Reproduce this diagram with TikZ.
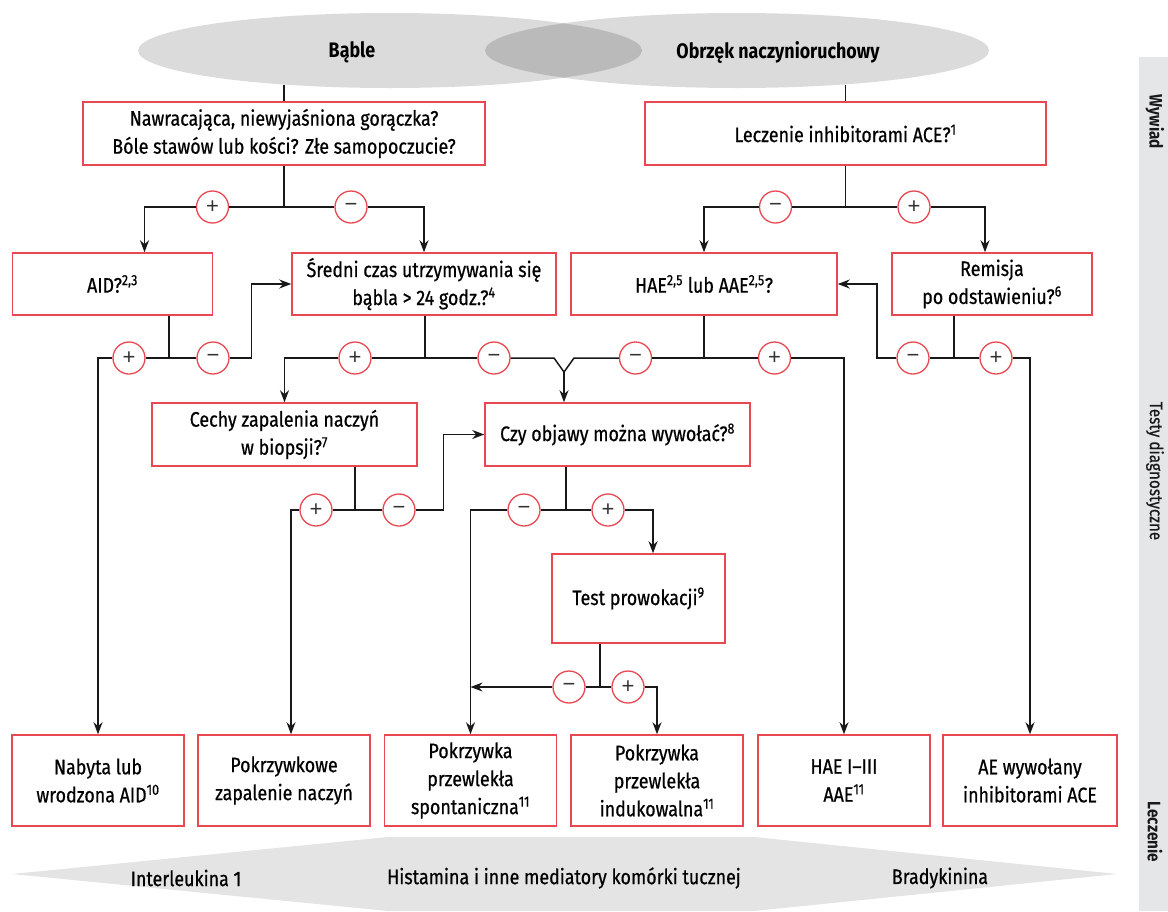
\documentclass[tikz,border=0pt]{standalone}
\usepackage{fontspec}
\setmainfont[FakeStretch=0.85, UprightFeatures={FakeBold=0.6}]{Fira Sans}
\newfontfamily\signfont{Liberation Sans}
\usetikzlibrary{arrows.meta}
\definecolor{boxred}{RGB}{233,72,82}
\definecolor{blobgray}{RGB}{219,219,219}
\definecolor{blobdark}{RGB}{186,186,186}
\definecolor{bandgray}{RGB}{228,228,228}
\definecolor{sidegray}{RGB}{229,230,232}
\tikzset{
  qbox/.style={draw=boxred, line width=1.5pt, fill=white, align=center, inner sep=2pt,
    text=black, font=\fontsize{21}{28}\selectfont},
  sign/.style={circle, draw=boxred, line width=1.3pt, fill=white, minimum size=32pt,
    inner sep=0pt, text=black!80, font=\signfont\fontsize{22}{22}\selectfont},
  conn/.style={line width=1.5pt, black!90},
  arr/.style={conn, -{Stealth[length=12pt,width=9pt]}},
  lbl/.style={text=black, font=\fontsize{21}{28}\selectfont},
  head/.style={lbl, font=\bfseries\fontsize{21}{28}\selectfont},
  side/.style={rotate=-90, text=black!90, font=\bfseries\fontsize{18}{22}\selectfont},
}
\begin{document}
\begin{tikzpicture}[x=1pt, y=-1pt]
\useasboundingbox (0,0) rectangle (1168,911);

% background shapes
\fill[blobgray] (390,50.5) ellipse [x radius=252, y radius=37.5];
\fill[blobgray] (737,50.5) ellipse [x radius=252, y radius=37.5];
\begin{scope}
  \clip (390,50.5) ellipse [x radius=252, y radius=37.5];
  \fill[blobdark] (737,50.5) ellipse [x radius=252, y radius=37.5];
\end{scope}
\fill[bandgray] (12,874) -- (388,837) -- (754,837) -- (1117,874) -- (754,911) -- (388,911) -- cycle;
\fill[sidegray] (1139,57) rectangle (1168,911);

\node[head] (bable) at (352,52) {Bąble};
\node[head] (obrzek) at (778,52) {Obrzęk naczynioruchowy};
\node[side] (wywiad) at (1155,122) {Wywiad};
\node[side, font=\fontsize{18}{22}\selectfont] (testy) at (1155,471) {Testy diagnostyczne};
\node[side] (leczenie) at (1155,832) {Leczenie};
\node[lbl] (il1) at (186,878) {Interleukina 1};
\node[lbl] (hist) at (564,878) {Histamina i inne mediatory komórki tucznej};
\node[lbl] (brady) at (940,878) {Bradykinina};

% boxes
\node[qbox, minimum width=402pt, minimum height=63pt] (A) at (284,133.5)
  {Nawracająca, niewyjaśniona gorączka?\\Bóle stawów lub kości? Złe samopoczucie?};
\node[qbox, minimum width=401pt, minimum height=63pt] (D) at (845.5,133.5)
  {Leczenie inhibitorami ACE?\textsuperscript{1}};
\node[qbox, minimum width=200pt, minimum height=62pt] (B) at (112.5,284) {AID?\textsuperscript{2,3}};
\node[qbox, minimum width=264pt, minimum height=62pt] (C) at (424,284)
  {Średni czas utrzymywania się\\bąbla > 24 godz.?\textsuperscript{4}};
\node[qbox, minimum width=266pt, minimum height=62pt] (E) at (704,284)
  {HAE\textsuperscript{2,5} lub AAE\textsuperscript{2,5}?};
\node[qbox, minimum width=200pt, minimum height=62pt] (F) at (992,284)
  {Remisja\\po odstawieniu?\textsuperscript{6}};
\node[qbox, minimum width=265pt, minimum height=63pt] (G) at (284.5,434.5)
  {Cechy zapalenia naczyń\\w biopsji?\textsuperscript{7}};
\node[qbox, minimum width=265pt, minimum height=63pt] (H) at (617.5,434.5)
  {Czy objawy można wywołać?\textsuperscript{8}};
\node[qbox, minimum width=173pt, minimum height=89pt] (T) at (638.5,598.5)
  {Test prowokacji\textsuperscript{9}};
\node[qbox, minimum width=172pt, minimum height=91pt] (n1) at (98,780.5)
  {Nabyta lub\\wrodzona AID\textsuperscript{10}};
\node[qbox, minimum width=172pt, minimum height=91pt] (n2) at (284,780.5)
  {Pokrzywkowe\\zapalenie naczyń};
\node[qbox, minimum width=172pt, minimum height=91pt] (n3) at (470.5,780.5)
  {Pokrzywka\\przewlekła\\spontaniczna\textsuperscript{11}};
\node[qbox, minimum width=172pt, minimum height=91pt] (n4) at (657,780.5)
  {Pokrzywka\\przewlekła\\indukowalna\textsuperscript{11}};
\node[qbox, minimum width=172pt, minimum height=91pt] (n5) at (844,780.5)
  {HAE I–III\\AAE\textsuperscript{11}};
\node[qbox, minimum width=174pt, minimum height=91pt] (n6) at (1030,780.5)
  {AE wywołany\\inhibitorami ACE};

% plus / minus marks
\node[sign] (s1p) at (212.5,207) {+};
\node[sign] (s1m) at (351,207) {−};
\node[sign] (s2m) at (775.5,207) {−};
\node[sign] (s2p) at (914,207) {+};
\node[sign] (s3p) at (129,358) {+};
\node[sign] (s3m) at (213,358) {−};
\node[sign] (s4p) at (355,358) {+};
\node[sign] (s4m) at (494,358) {−};
\node[sign] (s5m) at (635.5,358) {−};
\node[sign] (s5p) at (774.5,358) {+};
\node[sign] (s6m) at (913,358) {−};
\node[sign] (s6p) at (996,358) {+};
\node[sign] (s7p) at (316,510) {+};
\node[sign] (s7m) at (399,510) {−};
\node[sign] (s8m) at (524,510) {−};
\node[sign] (s8p) at (608,510) {+};
\node[sign] (s9m) at (569,687) {−};
\node[sign] (s9p) at (628,687) {+};

\coordinate (eL) at (284,85);
\coordinate (eR) at (845.5,85);
\coordinate (jA) at (284,207);
\coordinate (jD) at (845.5,207);
\coordinate (jB) at (169,358);
\coordinate (jC) at (425,358);
\coordinate (jE) at (704,358);
\coordinate (jF) at (954,358);
\coordinate (jG) at (355,510);
\coordinate (jH) at (566,510);
\coordinate (jT) at (600,687);
\coordinate (vtip) at (564,372);

% connectors
\draw[conn] (eL) -- (A);
\draw[conn] (eR) -- (D);
\foreach \b in {A,D,B,C,E,F,G,H,T}
  \draw[conn] (\b.south -| j\b) -- (j\b);

\draw[conn] (s1p) -- (s1m);
\draw[arr] (s1p) -| ([xshift=32pt]B.north);
\draw[arr] (s1m) -| (C);
\draw[conn] (s2m) -- (s2p);
\draw[arr] (s2m) -| (E);
\draw[arr] (s2p) -| ([xshift=-7pt]F.north);

\draw[conn] (s3p) -- (s3m);
\draw[arr] (s3p) -| (n1);
\draw[arr] (s3m) -| ([xshift=-40pt]C.west) -- (C.west);
\draw[conn] (s4p) -- (s4m);
\draw[arr] (s4p) -| (G);
\draw[conn] (s4m) -- ([shift={(-10pt,14pt)}]vtip) -- (vtip);
\draw[conn] (s5m) -- (s5p);
\draw[conn] (s5m) -- ([shift={(10pt,14pt)}]vtip) -- (vtip);
\draw[arr] (vtip) -- (vtip |- H.north);
\draw[arr] (s5p) -| (n5);
\draw[conn] (s6m) -- (s6p);
\draw[arr] (s6m) -| ([xshift=39pt]E.east) -- (E.east);
\draw[arr] (s6p) -| (n6);

\draw[conn] (s7p) -- (s7m);
\draw[arr] (s7p) -| ([xshift=7pt]n2.north);
\draw[arr] (s7m) -| ([xshift=-41pt]H.west) -- (H.west);
\draw[conn] (s8m) -- (s8p);
\draw[arr] (s8m) -| (n3);
\draw[arr] (s8p) -| ([xshift=14.5pt]T.north);

\draw[conn] (s9m) -- (s9p);
\draw[arr] (s9m) -- (s9m -| n3);
\draw[arr] (s9p) -| (n4);
\end{tikzpicture}
\end{document}
